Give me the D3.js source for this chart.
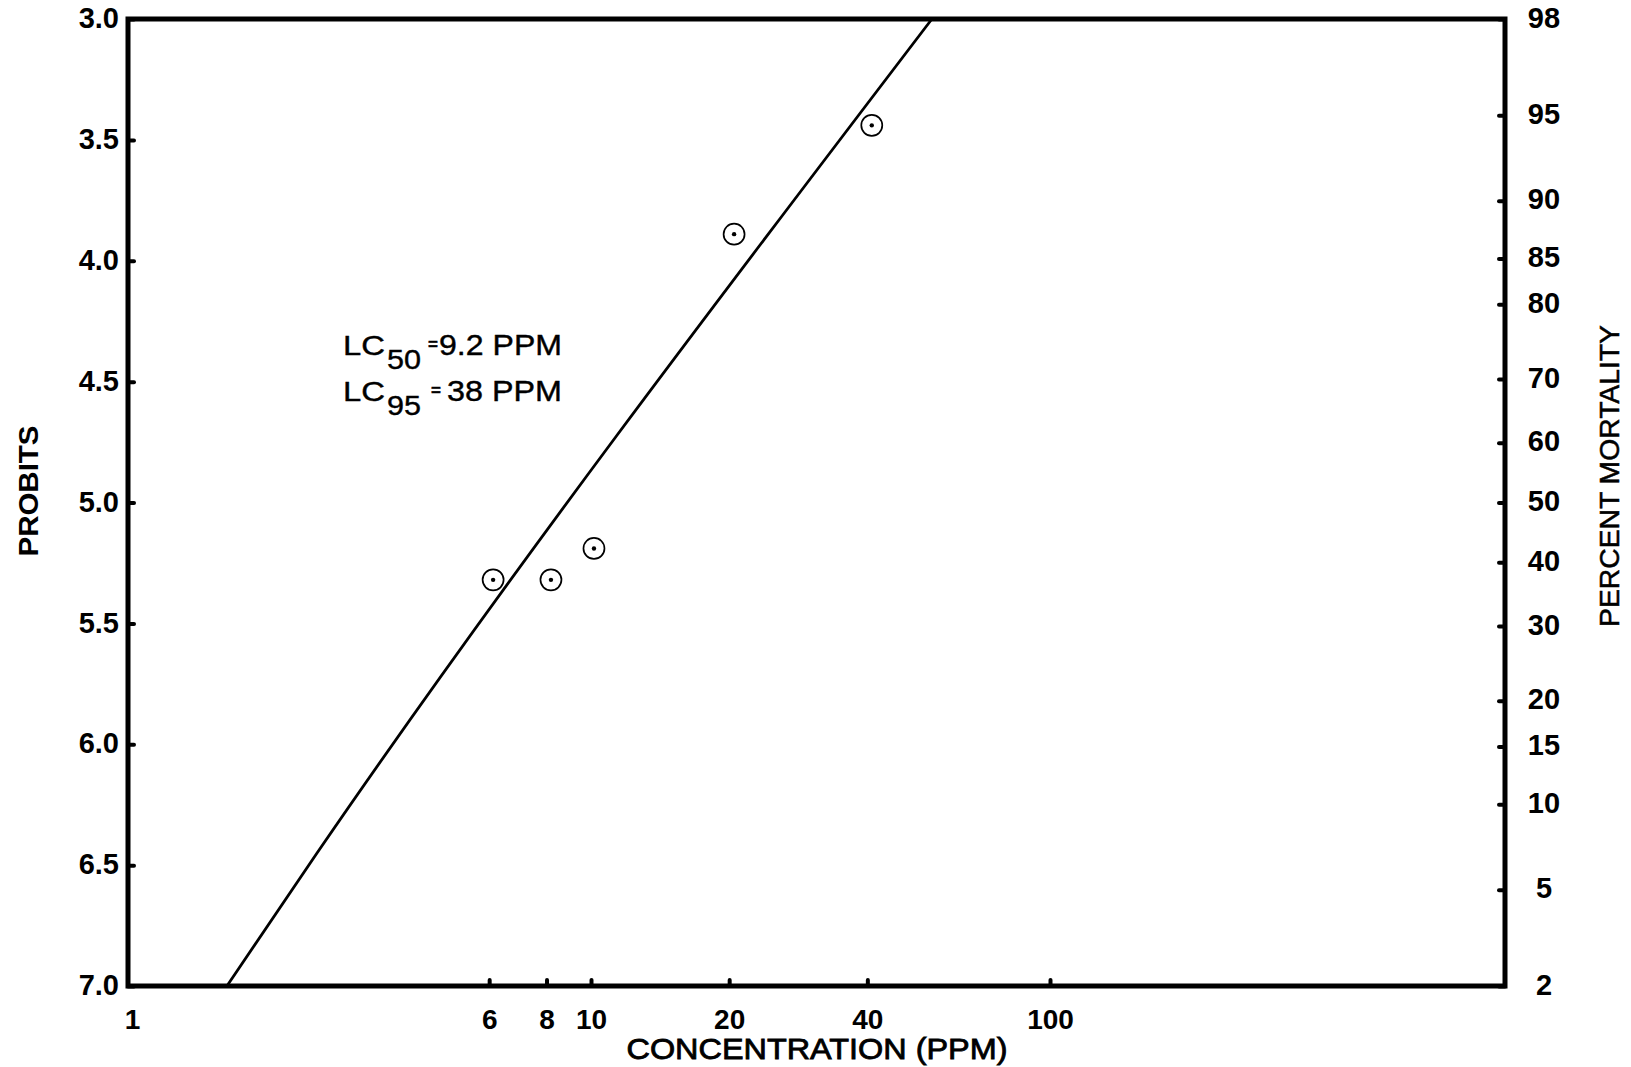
<!DOCTYPE html>
<html>
<head>
<meta charset="utf-8">
<script src="https://cdn.jsdelivr.net/npm/d3@7"></script>
<style>
  html, body { margin: 0; padding: 0; background: #fff; }
  svg { display: block; }
  .tick text { font-family: "Liberation Sans", Arial, Helvetica, sans-serif; font-weight: bold; font-size: 29px; fill: #000; }
  .tick line { stroke: #000; stroke-width: 4; stroke-linecap: round; }
  .title { font-family: "Liberation Sans", Arial, Helvetica, sans-serif; fill: #000; }
</style>
</head>
<body>
<svg id="chart" width="1631" height="1067"></svg>
<script>
// ---- data ----
const concTicks   = [1, 6, 8, 10, 20, 40, 100];                 // x tick labels (PPM, log scale)
const probitTicks = [3.0, 3.5, 4.0, 4.5, 5.0, 5.5, 6.0, 6.5, 7.0]; // left axis (probits, inverted)
const pctTicks    = [2, 5, 10, 15, 20, 30, 40, 50, 60, 70, 80, 85, 90, 95, 98]; // right axis (percent mortality)
const obsConc     = [6.12, 8.18, 10.15, 20.5, 40.9];            // observed points: concentration
const obsProbit   = [5.32, 5.32, 5.19, 3.89, 3.44];             // observed points: probit
const fitConc     = [1.61, 2.53, 55.3];                          // fitted line: concentration
const fitProbit   = [7.0, 6.45, 3.0];                            // fitted line: probit
const lcLines = [
  { name: "LC", sub: "50", value: "9.2 PPM" },
  { name: "LC", sub: "95", value: "38 PPM" }
];

// ---- inverse normal CDF (Acklam) for the probability scale ----
function normInv(p) {
  const a = [-3.969683028665376e+01, 2.209460984245205e+02, -2.759285104469687e+02, 1.383577518672690e+02, -3.066479806614716e+01, 2.506628277459239e+00];
  const b = [-5.447609879822406e+01, 1.615858368580409e+02, -1.556989798598866e+02, 6.680131188771972e+01, -1.328068155288572e+01];
  const c = [-7.784894002430293e-03, -3.223964580411365e-01, -2.400758277161838e+00, -2.549732539343734e+00, 4.374664141464968e+00, 2.938163982698783e+00];
  const d = [7.784695709041462e-03, 3.224671290700398e-01, 2.445134137142996e+00, 3.754408661907416e+00];
  const pl = 0.02425, ph = 1 - pl;
  let q, r;
  if (p < pl) {
    q = Math.sqrt(-2 * Math.log(p));
    return (((((c[0]*q+c[1])*q+c[2])*q+c[3])*q+c[4])*q+c[5]) / ((((d[0]*q+d[1])*q+d[2])*q+d[3])*q+1);
  } else if (p <= ph) {
    q = p - 0.5; r = q * q;
    return (((((a[0]*r+a[1])*r+a[2])*r+a[3])*r+a[4])*r+a[5])*q / (((((b[0]*r+b[1])*r+b[2])*r+b[3])*r+b[4])*r+1);
  } else {
    q = Math.sqrt(-2 * Math.log(1 - p));
    return -(((((c[0]*q+c[1])*q+c[2])*q+c[3])*q+c[4])*q+c[5]) / ((((d[0]*q+d[1])*q+d[2])*q+d[3])*q+1);
  }
}

// ---- layout ----
const mLeft = 128, mRight = 1505, mTop = 19, mBottom = 986;
const svg = d3.select("#chart");
svg.append("rect").attr("width", 1631).attr("height", 1067).attr("fill", "#fff");

const x = d3.scaleLog().domain([1, 1000]).range([mLeft + 4, mRight + 4]);
const y = d3.scaleLinear().domain([3, 7]).range([mTop, mBottom]);
const pctZ = pctTicks.map(p => normInv(p / 100));
const yPct = d3.scaleLinear()
  .domain([pctZ[0], pctZ[pctZ.length - 1]])
  .range([mBottom, mTop]);

// left axis
const gL = svg.append("g").attr("transform", `translate(${mLeft},0)`)
  .call(d3.axisLeft(y).tickValues(probitTicks).tickFormat(d3.format(".1f")).tickSize(-6).tickPadding(9));
gL.select(".domain").remove();
gL.selectAll(".tick text").attr("dy", "0.3em");

// right axis (probability scale)
const gR = svg.append("g").attr("transform", `translate(${mRight},0)`)
  .call(d3.axisRight(yPct).tickValues(pctZ).tickFormat((z, i) => pctTicks[i]).tickSize(-6));
gR.select(".domain").remove();
gR.selectAll(".tick text").attr("text-anchor", "middle").attr("x", 39).attr("dy", "0.28em");

// bottom axis
const gB = svg.append("g").attr("transform", `translate(0,${mBottom})`)
  .call(d3.axisBottom(x).tickValues(concTicks).tickFormat(d3.format("d")).tickSize(-6).tickPadding(23));
gB.select(".domain").remove();
gB.selectAll(".tick line").filter(d => d === concTicks[0]).remove();
gB.selectAll(".tick text").style("font-size", "28px");

// frame
svg.append("rect")
  .attr("x", mLeft).attr("y", mTop)
  .attr("width", mRight - mLeft).attr("height", mBottom - mTop)
  .attr("fill", "none").attr("stroke", "#000").attr("stroke-width", 5);

// fitted line
const fit = fitConc.map((c, i) => [c, fitProbit[i]]);
svg.append("path")
  .datum(fit)
  .attr("fill", "none").attr("stroke", "#000").attr("stroke-width", 2.8)
  .attr("stroke-linejoin", "round")
  .attr("d", d3.line().curve(d3.curveMonotoneY).x(d => x(d[0])).y(d => y(d[1])));

// observed points (circle with center dot)
const pts = obsConc.map((c, i) => [c, obsProbit[i]]);
const gP = svg.append("g");
gP.selectAll("circle.ring").data(pts).join("circle").attr("class", "ring")
  .attr("cx", d => x(d[0])).attr("cy", d => y(d[1])).attr("r", 10.5)
  .attr("fill", "none").attr("stroke", "#000").attr("stroke-width", 1.7);
gP.selectAll("circle.dot").data(pts).join("circle").attr("class", "dot")
  .attr("cx", d => x(d[0])).attr("cy", d => y(d[1])).attr("r", 2.2)
  .attr("fill", "#000");

// axis titles
svg.append("text").attr("class", "title")
  .attr("transform", "translate(38,491) rotate(-90)")
  .attr("text-anchor", "middle")
  .attr("font-size", 27).attr("font-weight", "bold")
  .attr("textLength", 131).attr("lengthAdjust", "spacingAndGlyphs")
  .text("PROBITS");

svg.append("text").attr("class", "title")
  .attr("transform", "translate(1619,476) rotate(-90)")
  .attr("text-anchor", "middle")
  .attr("font-size", 28)
  .attr("stroke", "#000").attr("stroke-width", 0.5)
  .attr("textLength", 302).attr("lengthAdjust", "spacingAndGlyphs")
  .text("PERCENT MORTALITY");

svg.append("text").attr("class", "title")
  .attr("x", 817).attr("y", 1059)
  .attr("text-anchor", "middle")
  .attr("font-size", 29)
  .attr("stroke", "#000").attr("stroke-width", 0.8)
  .attr("textLength", 381).attr("lengthAdjust", "spacingAndGlyphs")
  .text("CONCENTRATION (PPM)");

// LC annotation
const gA = svg.append("g").attr("class", "title").attr("stroke", "#000").attr("stroke-width", 0.4);
lcLines.forEach((l, i) => {
  const base = 355 + i * 46;
  gA.append("text").attr("x", 343).attr("y", base).attr("font-size", 28)
    .attr("textLength", 42).attr("lengthAdjust", "spacingAndGlyphs").text(l.name);
  gA.append("text").attr("x", 387).attr("y", base + 14).attr("font-size", 28)
    .attr("textLength", 34).attr("lengthAdjust", "spacingAndGlyphs").text(l.sub);
  gA.append("text").attr("x", 428 + i * 3).attr("y", base - 5).attr("font-size", 17).attr("font-weight", "bold").text("=");
  gA.append("text").attr("x", 439 + i * 8).attr("y", base).attr("font-size", 29)
    .attr("textLength", 123 - i * 8).attr("lengthAdjust", "spacingAndGlyphs").text(l.value);
});
</script>
</body>
</html>
